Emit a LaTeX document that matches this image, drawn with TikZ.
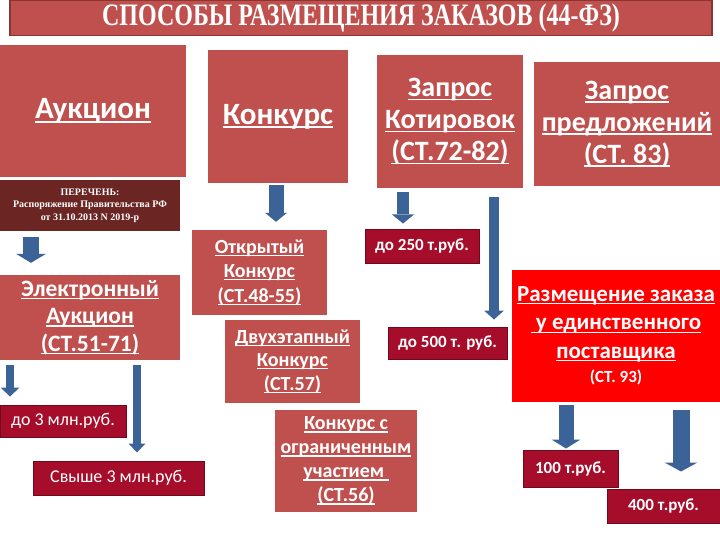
\documentclass[tikz,border=0pt]{standalone}
\usepackage{fontspec}
\setmainfont{Carlito}
\newfontfamily\titfont{Liberation Serif}
\usetikzlibrary{arrows.meta}
\newsavebox\ulbox
\newcommand\uln[1]{\sbox\ulbox{#1}\rlap{\rule[-0.13em]{\wd\ulbox}{0.06em}}\usebox\ulbox}
\definecolor{boxred}{HTML}{C0504D}
\definecolor{listred}{HTML}{6B2522}
\definecolor{sumred}{HTML}{A50D2A}
\definecolor{sumedge}{HTML}{6E0A1C}
\definecolor{arrblue}{HTML}{3B6397}
\definecolor{titedge}{HTML}{8A3532}
\begin{document}
\begin{tikzpicture}[x=1pt,y=-1pt,
  box/.style={fill=boxred,text=white,align=center,inner sep=0pt,font=\bfseries},
  sum/.style={fill=sumred,draw=sumedge,line width=1pt,text=white,inner sep=0pt,font=\bfseries\fontsize{17}{20}\selectfont},
  barrow/.style 2 args={draw=arrblue,line width=#1,-{Triangle[width=#2,length=9pt,line width=0pt]}}]
\useasboundingbox (0,0) rectangle (720,540);
\node[fill=boxred,draw=titedge,line width=1.5pt,minimum width=702pt,minimum height=35pt,inner sep=0pt,text=white] (tit) at (361,18)
  {\titfont\bfseries\fontsize{24}{24}\selectfont\scalebox{1}[1.3]{СПОСОБЫ РАЗМЕЩЕНИЯ ЗАКАЗОВ (44-ФЗ)}};
\node[box,minimum width=186pt,minimum height=132pt,font=\bfseries\fontsize{31}{34}\selectfont] (auk) at (93,111) {\uln{Аукцион}};
\node[box,minimum width=140pt,minimum height=133pt,font=\bfseries\fontsize{31}{34}\selectfont] (konk) at (278,116.5) {\uln{Конкурс}};
\node[box,minimum width=146pt,minimum height=133pt,font=\bfseries\fontsize{28}{32}\selectfont] (kot) at (450,121.5)
  {\uln{Запрос}\\\uln{Котировок}\\\uln{(СТ.72-82)}};
\node[box,minimum width=186pt,minimum height=124pt,font=\bfseries\fontsize{28}{32}\selectfont] (pred) at (627,124)
  {\uln{Запрос}\\\uln{предложений}\\\uln{(СТ. 83)}};
\node[box,fill=listred,minimum width=180pt,minimum height=51pt,font=\titfont\bfseries\fontsize{10}{12.5}\selectfont] (per) at (90,205.5)
  {ПЕРЕЧЕНЬ:\\Распоряжение Правительства РФ\\от 31.10.2013 N 2019-р};
\node[box,minimum width=180pt,minimum height=85pt,font=\bfseries\fontsize{23.5}{27.5}\selectfont] (el) at (90,317.5)
  {\uln{Электронный}\\\uln{Аукцион}\\\uln{(СТ.51-71)}};
\node[box,minimum width=135pt,minimum height=85pt,font=\bfseries\fontsize{20}{24.5}\selectfont] (otkr) at (259.5,272.5)
  {\uln{Открытый}\\\uln{Конкурс}\\\uln{(СТ.48-55)}};
\node[box,minimum width=135pt,minimum height=83pt,font=\bfseries\fontsize{20}{23.5}\selectfont] (dvuh) at (292.5,361.5)
  {\uln{Двухэтапный}\\\uln{Конкурс}\\\uln{(СТ.57)}};
\node[box,minimum width=142pt,minimum height=102pt,font=\bfseries\fontsize{20}{24}\selectfont] (ogr) at (346,461)
  {\uln{Конкурс с}\\\uln{ограниченным}\\\uln{участием }\\\uln{(СТ.56)}};
\node[box,fill=red,minimum width=208pt,minimum height=132pt,font=\bfseries\fontsize{23}{28.5}\selectfont] (edin) at (616,336)
  {\uln{Размещение заказа}\\\uln{ у единственного}\\\uln{поставщика}\\[-4pt]{\fontsize{17}{18}\selectfont(СТ. 93)}};
\node[sum,minimum width=114pt,minimum height=33pt] (d250) at (422,246.5) {до 250 т.руб.};
\node[sum,minimum width=119pt,minimum height=32pt] (d500) at (447.5,343) {до 500 т. руб.};
\node[sum,minimum width=126pt,minimum height=32pt,font=\fontsize{18}{20}\selectfont] (d3) at (63,421) {до 3 млн.руб.};
\node[sum,minimum width=171pt,minimum height=34pt,font=\fontsize{18}{20}\selectfont] (sv3) at (118.5,478) {Свыше 3 млн.руб.};
\node[sum,minimum width=95pt,minimum height=37pt] (t100) at (570.5,468.5) {100 т.руб.};
\node[sum,minimum width=113pt,minimum height=34pt] (t400) at (663.5,506) {400 т.руб.};
\draw[barrow={15pt}{22pt},shorten <=2pt,shorten >=8pt] ([xshift=-2pt]konk.south) -- ([xshift=-2pt]konk.south |- otkr.north);
\draw[barrow={12pt}{22pt},shorten <=4pt,shorten >=6pt] ([xshift=-47pt]kot.south) -- ([xshift=-47pt]kot.south |- d250.north);
\draw[barrow={10pt}{20pt},shorten <=9pt,shorten >=7pt] ([xshift=44pt]kot.south) -- ([xshift=44pt]kot.south |- d500.north);
\draw[barrow={16pt}{30pt},shorten <=6pt,shorten >=12pt] ([xshift=-59pt]per.south) -- ([xshift=-59pt]per.south |- el.north);
\draw[barrow={8pt}{19pt},shorten <=5pt,shorten >=8pt] ([xshift=-80pt]el.south) -- ([xshift=-80pt]el.south |- d3.north);
\draw[barrow={8pt}{17pt},shorten <=5pt,shorten >=8pt] ([xshift=47pt]el.south) -- ([xshift=47pt]el.south |- sv3.north);
\draw[barrow={15pt}{29pt},shorten <=3pt,shorten >=1pt] ([xshift=-50pt]edin.south) -- ([xshift=-50pt]edin.south |- t100.north);
\draw[barrow={17pt}{33pt},shorten <=8pt,shorten >=17pt] ([xshift=65pt]edin.south) -- ([xshift=65pt]edin.south |- t400.north);
\end{tikzpicture}
\end{document}
